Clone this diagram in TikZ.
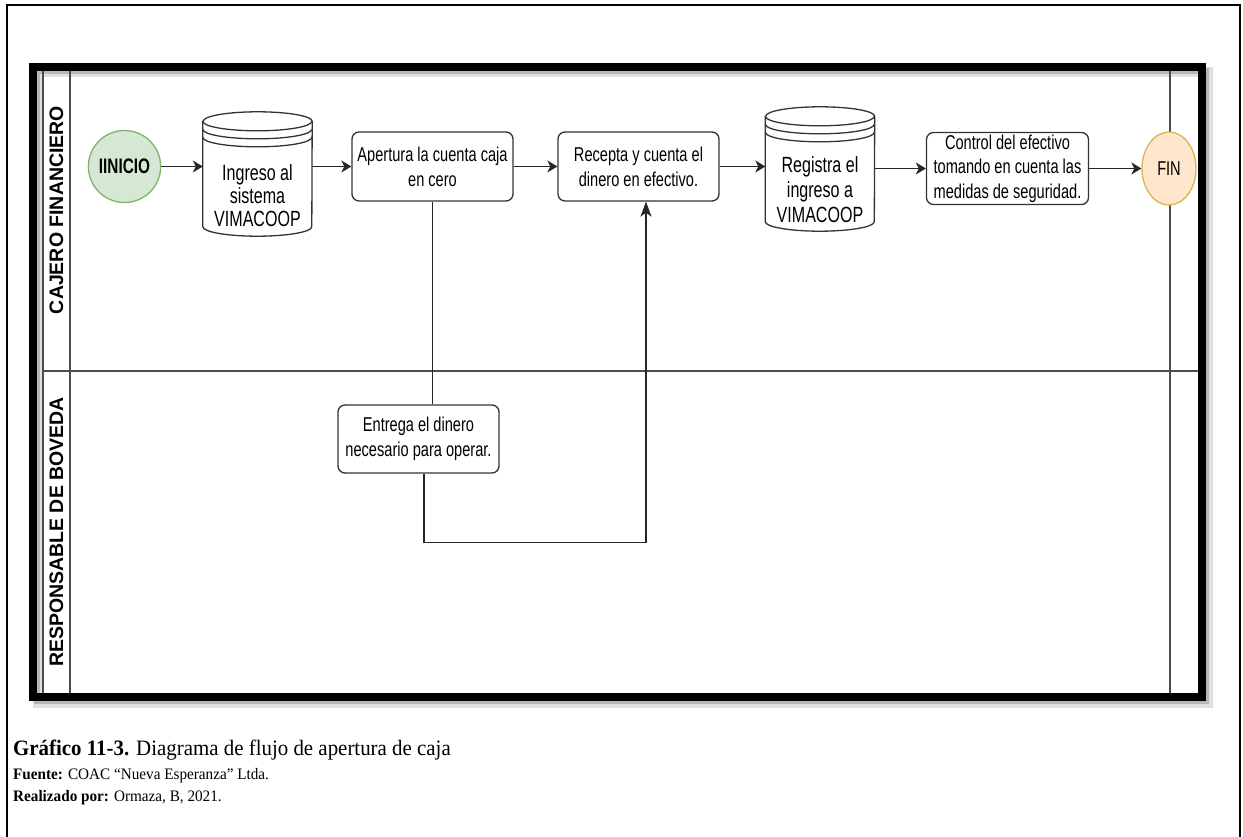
\documentclass[tikz,border=0pt]{standalone}
\usepackage{fontspec}
\setmainfont{Liberation Serif}
\newfontfamily\dfont[FakeStretch=0.73]{Liberation Sans}
\newfontfamily\lfont{Liberation Sans}
\newfontfamily\cfont[FakeStretch=0.95]{Liberation Serif}
\usetikzlibrary{shapes.geometric,arrows.meta,calc}
\definecolor{inifill}{HTML}{D5E8D4}
\definecolor{inidraw}{HTML}{82B366}
\definecolor{finfill}{HTML}{FFE6CC}
\definecolor{findraw}{HTML}{D6B656}
\newcommand\dstore[1]{%
  \draw[draw=black!80,line width=1.3pt,fill=white]
    ($(#1.north west)+(0,9.5)$) -- ($(#1.south west)+(0,-9.5)$)
    arc[start angle=180,end angle=360,x radius=54.5pt,y radius=9.5pt]
    -- ($(#1.north east)+(0,9.5)$)
    arc[start angle=0,end angle=180,x radius=54.5pt,y radius=9.5pt] -- cycle;
  \draw[draw=black!80,line width=1.3pt]
    ($(#1.north west)+(0,9.5)$) arc[start angle=180,end angle=360,x radius=54.5pt,y radius=9.5pt];
  \draw[draw=black!80,line width=1.3pt]
    ($(#1.north west)+(0,17.5)$) arc[start angle=180,end angle=360,x radius=54.5pt,y radius=9.5pt];
  \draw[draw=black!80,line width=1.3pt]
    ($(#1.north west)+(0,25.5)$) arc[start angle=180,end angle=360,x radius=54.5pt,y radius=9.5pt];
}
\begin{document}
\begin{tikzpicture}[x=1pt,y=-1pt,
  lane/.style={draw=black!70,line width=1.3pt},
  proc/.style={draw=black!80,line width=1.3pt,rounded corners=7pt,fill=white,align=center,
    inner sep=0pt,minimum width=161pt,minimum height=69pt,font=\dfont\fontsize{20}{25}\selectfont},
  evt/.style={ellipse,line width=1.3pt,inner sep=0pt,minimum width=55pt,minimum height=72pt},
  store/.style={inner sep=0pt,minimum width=109pt,minimum height=124pt},
  storetext/.style={align=center,inner sep=0pt},
  conn/.style={draw=black!85,line width=1.3pt},
  arr/.style={conn,-{Stealth[length=10pt,width=12pt,inset=3pt]}},
  varr/.style={conn,-{Stealth[length=15pt,width=11pt,inset=4pt]}},
  lanelabel/.style={rotate=90,inner sep=0pt,font=\lfont\bfseries\fontsize{19.5}{20}\selectfont},
  captext/.style={anchor=base west,inner sep=0pt},
]
\useasboundingbox (0,0) rectangle (1243,837);
\fill[white] (0,0) rectangle (1243,837);
% outer page frame
\draw[line width=2.2pt] (7,860) -- (7,5) -- (1240,5) -- (1240,860);
% pool shadow and frame
\draw[line width=10pt,black!12] (38,72.5) rectangle (1208,703);
\draw[line width=6pt,black!28] (37,71.5) rectangle (1206,701);
\draw[line width=8pt,black] (33,67.5) rectangle (1202,697);
% lanes
\draw[lane] (43,71.5) -- (43,693);
\draw[lane] (70,71.5) -- (70,693);
\draw[lane] (1170,71.5) -- (1170,693);
\draw[lane] (43,371) -- (1198,371);
\node[lanelabel] (l1) at (56.5,210) {CAJERO FINANCIERO};
\node[lanelabel] (l2) at (56.5,532) {RESPONSABLE DE BOVEDA};

% nodes
\node[evt,draw=inidraw,fill=inifill,font=\dfont\bfseries\fontsize{21}{24}\selectfont] (ini) at (124.5,166.5) {IINICIO};
\node[store] (c1) at (257.5,174) {};
\dstore{c1}
\node[storetext,font=\dfont\fontsize{22}{23}\selectfont] (c1t) at (257.5,196) {Ingreso al\\sistema\\VIMACOOP};
\node[proc] (ap) at (432.5,166.5) {Apertura la cuenta caja\\en cero};
\node[proc] (re) at (638.5,166.5) {Recepta y cuenta el\\dinero en efectivo.};
\node[store] (c2) at (820,169) {};
\dstore{c2}
\node[storetext,font=\dfont\fontsize{22}{25}\selectfont] (c2t) at (820,190) {Registra el\\ingreso a\\VIMACOOP};
\node[proc,minimum width=162pt,minimum height=72pt,font=\dfont\fontsize{20}{24.5}\selectfont] (co) at (1007.5,168.5) {Control del efectivo\\tomando en cuenta las\\medidas de seguridad.};
\node[evt,draw=findraw,fill=finfill,font=\dfont\fontsize{20}{24}\selectfont,minimum width=54pt,minimum height=73pt] (fin) at (1169,168.5) {FIN};
\node[proc,minimum height=68pt] (en) at (418.5,439) {Entrega el dinero\\necesario para operar.};

% connectors
\draw[arr] (ini.east) -- (ini.east -| c1.west);
\draw[arr] (c1.east |- ap.west) -- (ap.west);
\draw[arr] (ap.east) -- (re.west);
\draw[arr] (re.east) -- (re.east -| c2.west);
\draw[arr] (c2.east |- co.west) -- (co.west);
\draw[arr] (co.east) -- (fin.west);
\draw[conn] (ap.south) -- (ap.south |- en.north);
\draw[varr] ([xshift=5.5pt]en.south) -- ++(0,69) -| ([xshift=7.5pt]re.south);

% caption
\node[captext,font=\cfont\fontsize{22}{24}\selectfont] (cap) at (13,755) {\textbf{Gráfico 11-3.} Diagrama de flujo de apertura de caja};
\node[captext,font=\cfont\fontsize{16}{18}\selectfont] (src) at (13,779) {\textbf{Fuente:} COAC “Nueva Esperanza” Ltda.};
\node[captext,font=\cfont\fontsize{16}{18}\selectfont] (auth) at (13,801) {\textbf{Realizado por:} Ormaza, B, 2021.};
\end{tikzpicture}
\end{document}
